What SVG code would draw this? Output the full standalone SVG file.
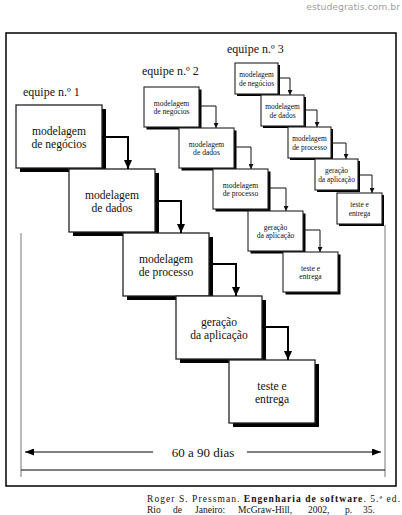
<svg xmlns="http://www.w3.org/2000/svg" width="402" height="515" viewBox="0 0 402 515">
<defs>
<style>
.bg{fill:#fff}
.frame{fill:none;stroke:#000;stroke-width:1.5}
.sh1{fill:#000}
.b1{fill:#fff;stroke:#222;stroke-width:1.3}
.b2{fill:#fff;stroke:#222;stroke-width:1.1}
.t{font-family:"Liberation Serif","Times New Roman",serif;fill:#111;text-anchor:middle}
.t1{font-size:11.6px}
.t2{font-size:7.6px}
.t3{font-size:7.4px}
.lbl{font-family:"Liberation Serif","Times New Roman",serif;font-size:12px;fill:#111}
.a1{fill:none;stroke:#000;stroke-width:2}
.a2{fill:none;stroke:#111;stroke-width:1}
.dimv{fill:none;stroke:#777;stroke-width:1}
.dimh{fill:none;stroke:#000;stroke-width:1.2}
.cite{font-family:"Liberation Serif","Times New Roman",serif;font-size:9.5px;fill:#111}
</style>
<marker id="ah1" markerUnits="userSpaceOnUse" markerWidth="9" markerHeight="8" viewBox="0 0 9 8" refX="9" refY="4" orient="auto"><path d="M0,0 L9,4 L0,8 z" fill="#000"/></marker>
<marker id="ah2" markerUnits="userSpaceOnUse" markerWidth="5" markerHeight="5" viewBox="0 0 5 5" refX="5" refY="2.5" orient="auto"><path d="M0,0 L5,2.5 L0,5 z" fill="#111"/></marker>
<marker id="ahd" markerUnits="userSpaceOnUse" markerWidth="9" markerHeight="7" viewBox="0 0 9 7" refX="9" refY="3.5" orient="auto-start-reverse"><path d="M0,0 L9,3.5 L0,7 z" fill="#000"/></marker>
</defs>
<rect class="bg" x="0" y="0" width="402" height="515"/>
<text x="400" y="10" font-family="'DejaVu Sans',Verdana,sans-serif" font-size="9.3" fill="#a0a0a0" text-anchor="end">estudegratis.com.br</text>
<rect class="frame" x="6" y="33" width="390" height="453"/>

<g id="labels">
<text class="lbl" x="23" y="96">equipe n.º 1</text>
<text class="lbl" x="142" y="75">equipe n.º 2</text>
<text class="lbl" x="227" y="53">equipe n.º 3</text>
</g>

<!-- team 1 -->
<g id="t1-negocios"><rect class="sh1" x="20" y="109" width="86" height="63"/><rect class="b1" x="16" y="105" width="86" height="63"/><text class="t t1" x="59" y="135">modelagem</text><text class="t t1" x="59" y="148">de negócios</text></g>
<g id="t1-dados"><rect class="sh1" x="73" y="173" width="86" height="63"/><rect class="b1" x="69" y="169" width="86" height="63"/><text class="t t1" x="112" y="199">modelagem</text><text class="t t1" x="112" y="212">de dados</text></g>
<g id="t1-processo"><rect class="sh1" x="127" y="237" width="86" height="63"/><rect class="b1" x="123" y="233" width="86" height="63"/><text class="t t1" x="166" y="263">modelagem</text><text class="t t1" x="166" y="276">de processo</text></g>
<g id="t1-geracao"><rect class="sh1" x="180" y="300" width="86" height="63"/><rect class="b1" x="176" y="296" width="86" height="63"/><text class="t t1" x="219" y="326">geração</text><text class="t t1" x="219" y="339">da aplicação</text></g>
<g id="t1-teste"><rect class="sh1" x="233" y="364" width="86" height="63"/><rect class="b1" x="229" y="360" width="86" height="63"/><text class="t t1" x="272" y="390">teste e</text><text class="t t1" x="272" y="403">entrega</text></g>

<!-- team 2 -->
<g id="t2-negocios"><rect class="sh1" x="146.5" y="89.5" width="55" height="40"/><rect class="b2" x="144" y="87" width="55" height="40"/><text class="t t2" x="171.5" y="105.5">modelagem</text><text class="t t2" x="171.5" y="114">de negócios</text></g>
<g id="t2-dados"><rect class="sh1" x="181.5" y="130.5" width="55" height="40"/><rect class="b2" x="179" y="128" width="55" height="40"/><text class="t t2" x="206.5" y="146.5">modelagem</text><text class="t t2" x="206.5" y="155">de dados</text></g>
<g id="t2-processo"><rect class="sh1" x="215.5" y="171.5" width="55" height="40"/><rect class="b2" x="213" y="169" width="55" height="40"/><text class="t t2" x="240.5" y="187.5">modelagem</text><text class="t t2" x="240.5" y="196">de processo</text></g>
<g id="t2-geracao"><rect class="sh1" x="250.5" y="213.5" width="55" height="40"/><rect class="b2" x="248" y="211" width="55" height="40"/><text class="t t2" x="275.5" y="229.5">geração</text><text class="t t2" x="275.5" y="238">da aplicação</text></g>
<g id="t2-teste"><rect class="sh1" x="285.5" y="254.5" width="55" height="40"/><rect class="b2" x="283" y="252" width="55" height="40"/><text class="t t2" x="310.5" y="270.5">teste e</text><text class="t t2" x="310.5" y="279">entrega</text></g>

<!-- team 3 -->
<g id="t3-negocios"><rect class="sh1" x="237" y="65" width="43" height="31"/><rect class="b2" x="235" y="63" width="43" height="31"/><text class="t t3" x="256.5" y="76.5">modelagem</text><text class="t t3" x="256.5" y="85.5">de negócios</text></g>
<g id="t3-dados"><rect class="sh1" x="263" y="97" width="43" height="31"/><rect class="b2" x="261" y="95" width="43" height="31"/><text class="t t3" x="282.5" y="108.5">modelagem</text><text class="t t3" x="282.5" y="117.5">de dados</text></g>
<g id="t3-processo"><rect class="sh1" x="290" y="129" width="43" height="31"/><rect class="b2" x="288" y="127" width="43" height="31"/><text class="t t3" x="309.5" y="140.5">modelagem</text><text class="t t3" x="309.5" y="149.5">de processo</text></g>
<g id="t3-geracao"><rect class="sh1" x="317" y="161" width="43" height="31"/><rect class="b2" x="315" y="159" width="43" height="31"/><text class="t t3" x="336.5" y="172.5">geração</text><text class="t t3" x="336.5" y="181.5">da aplicação</text></g>
<g id="t3-teste"><rect class="sh1" x="339" y="195" width="45" height="31"/><rect class="b2" x="337" y="193" width="45" height="31"/><text class="t t3" x="359.5" y="206.5">teste e</text><text class="t t3" x="359.5" y="215.5">entrega</text></g>

<g id="connectors">
<path class="a1" d="M102,137 H128 V169" marker-end="url(#ah1)"/>
<path class="a1" d="M155,201 H181 V233" marker-end="url(#ah1)"/>
<path class="a1" d="M209,264 H236 V296" marker-end="url(#ah1)"/>
<path class="a1" d="M262,327 H288 V360" marker-end="url(#ah1)"/>
<path class="a2" d="M199,106 H216 V128" marker-end="url(#ah2)"/>
<path class="a2" d="M234,147 H251 V169" marker-end="url(#ah2)"/>
<path class="a2" d="M268,188 H286 V211" marker-end="url(#ah2)"/>
<path class="a2" d="M303,230 H320 V252" marker-end="url(#ah2)"/>
<path class="a2" d="M278,78 H290 V95" marker-end="url(#ah2)"/>
<path class="a2" d="M304,110 H317 V127" marker-end="url(#ah2)"/>
<path class="a2" d="M331,143 H346 V159" marker-end="url(#ah2)"/>
<path class="a2" d="M358,175 H372 V193" marker-end="url(#ah2)"/>
</g>

<g id="dimension">
<line class="dimv" x1="21" y1="233" x2="21" y2="477"/>
<line class="dimv" x1="385" y1="225" x2="385" y2="477"/>
<line class="dimh" x1="21" y1="470" x2="385" y2="470"/>
<line class="dimh" x1="153" y1="452" x2="25" y2="452" marker-end="url(#ahd)"/>
<line class="dimh" x1="247" y1="452" x2="381" y2="452" marker-end="url(#ahd)"/>
<text x="203" y="457" font-family="'Liberation Serif','Times New Roman',serif" font-size="13" fill="#111" text-anchor="middle">60 a 90 dias</text>
</g>

<g id="citation">
<text class="cite" x="147" y="502" font-size="10" textLength="253" lengthAdjust="spacing">Roger S. Pressman. <tspan font-weight="bold">Engenharia de software</tspan>. 5.ª ed.</text>
<text class="cite" x="147" y="513">Rio</text>
<text class="cite" x="173" y="513">de</text>
<text class="cite" x="195" y="513">Janeiro:</text>
<text class="cite" x="238" y="513">McGraw-Hill,</text>
<text class="cite" x="308" y="513">2002,</text>
<text class="cite" x="345" y="513">p.</text>
<text class="cite" x="363" y="513">35.</text>
</g>
</svg>
